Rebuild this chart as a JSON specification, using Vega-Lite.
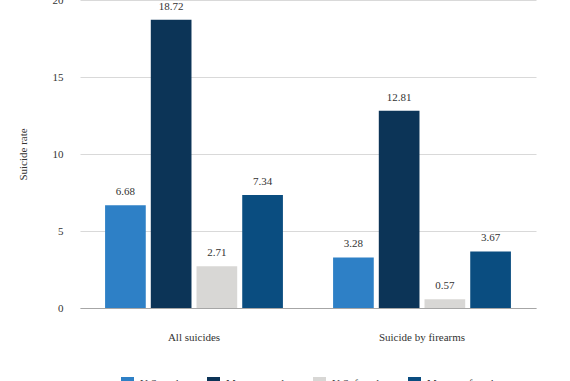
{
  "$schema": "https://vega.github.io/schema/vega-lite/v6.json",
  "width": 456,
  "height": 308,
  "autosize": {"type": "none"},
  "padding": {"left": 80, "top": 0, "right": 34, "bottom": 73},
  "background": "white",
  "config": {
    "view": {"stroke": null},
    "font": "Liberation Serif",
    "text": {"font": "Liberation Serif"}
  },
  "data": {
    "values": [
      {"category": "All suicides", "group": "U.S. males", "rate": 6.68},
      {"category": "All suicides", "group": "Montana males", "rate": 18.72},
      {"category": "All suicides", "group": "U.S. females", "rate": 2.71},
      {"category": "All suicides", "group": "Montana females", "rate": 7.34},
      {"category": "Suicide by firearms", "group": "U.S. males", "rate": 3.28},
      {"category": "Suicide by firearms", "group": "Montana males", "rate": 12.81},
      {"category": "Suicide by firearms", "group": "U.S. females", "rate": 0.57},
      {"category": "Suicide by firearms", "group": "Montana females", "rate": 3.67}
    ]
  },
  "encoding": {
    "x": {
      "field": "category",
      "type": "nominal",
      "scale": {"paddingInner": 0.22, "paddingOuter": 0.11},
      "axis": {
        "title": null,
        "labelAngle": 0,
        "ticks": false,
        "labelPadding": 23,
        "labelFontSize": 11,
        "labelColor": "#333333",
        "domainColor": "#a6a6a6",
        "domainWidth": 1
      }
    },
    "xOffset": {
      "field": "group",
      "type": "nominal",
      "sort": ["U.S. males", "Montana males", "U.S. females", "Montana females"],
      "scale": {"paddingInner": 0.11, "paddingOuter": 0}
    },
    "y": {
      "field": "rate",
      "type": "quantitative",
      "scale": {"domain": [0, 20], "nice": false},
      "axis": {
        "title": "Suicide rate",
        "titleFontSize": 11,
        "titleFontWeight": "normal",
        "titleColor": "#333333",
        "titlePadding": 24,
        "values": [0, 5, 10, 15, 20],
        "domain": false,
        "ticks": false,
        "labelPadding": 17,
        "labelFontSize": 11,
        "labelColor": "#333333",
        "gridColor": "#d9d9d9",
        "gridWidth": 1
      }
    }
  },
  "layer": [
    {
      "mark": {"type": "bar"},
      "encoding": {
        "color": {
          "field": "group",
          "type": "nominal",
          "sort": ["U.S. males", "Montana males", "U.S. females", "Montana females"],
          "scale": {
            "domain": ["U.S. males", "Montana males", "U.S. females", "Montana females"],
            "range": ["#2e80c6", "#0c3457", "#d8d7d5", "#0a4d80"]
          },
          "legend": {
            "title": null,
            "orient": "none",
            "direction": "horizontal",
            "legendX": 41,
            "legendY": 377,
            "symbolType": "square",
            "symbolSize": 169,
            "symbolStrokeWidth": 0,
            "labelFontSize": 11,
            "labelColor": "#333333",
            "labelOffset": 6,
            "columnPadding": 19,
            "padding": 0
          }
        }
      }
    },
    {
      "mark": {"type": "text", "baseline": "alphabetic", "dy": -10, "fontSize": 11, "color": "#333333"},
      "encoding": {
        "text": {"field": "rate", "type": "quantitative", "format": ".2f"}
      }
    }
  ]
}
